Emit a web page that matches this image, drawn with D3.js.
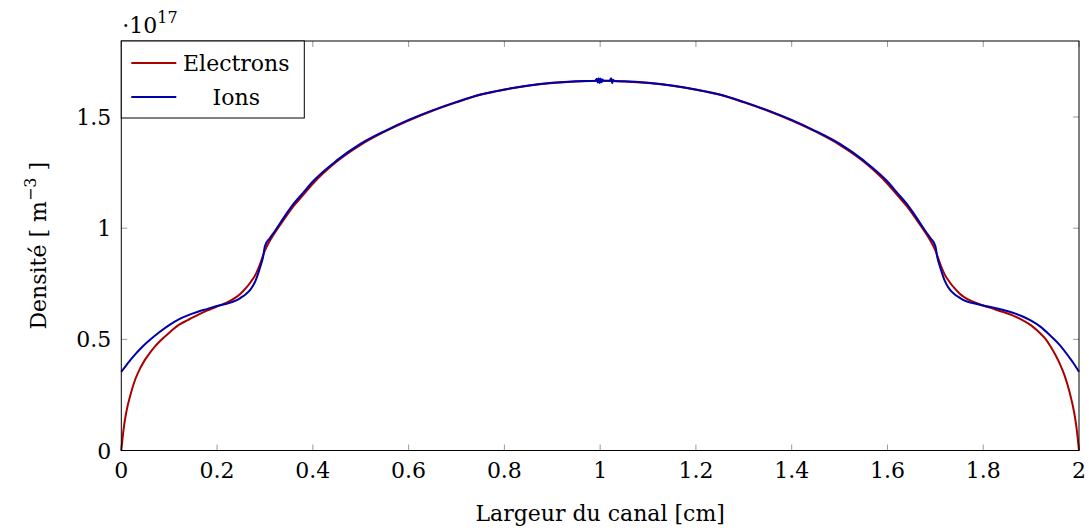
<!DOCTYPE html>
<html>
<head>
<meta charset="utf-8">
<script src="https://cdn.jsdelivr.net/npm/d3@7"></script>
<style>
  body { margin: 0; background: #fff; }
  svg text { font-family: "DejaVu Serif", "Liberation Serif", serif; fill: #000; }
</style>
</head>
<body>
<div id="container"></div>
<script>
/* CONSTANTS AND GLOBALS */
const width = 1089,
  height = 530,
  margin = { top: 41, bottom: 79.5, left: 121.3, right: 10 }

/* DATA */
const xElectrons = [0, 0.005, 0.01, 0.02, 0.03, 0.04, 0.05, 0.06, 0.07, 0.08, 0.1, 0.12, 0.14, 0.16, 0.18, 0.2,
  0.22, 0.24, 0.25, 0.26, 0.27, 0.28, 0.29, 0.3, 0.31, 0.32, 0.34, 0.36, 0.38, 0.4, 0.45, 0.5, 0.55, 0.6,
  0.65, 0.7, 0.75, 0.8, 0.85, 0.9, 0.95, 1.0,
  1.05, 1.1, 1.15, 1.2, 1.25, 1.3, 1.35, 1.4, 1.45, 1.5, 1.55, 1.6, 1.62, 1.64, 1.66, 1.68, 1.69,
  1.7, 1.71, 1.72, 1.73, 1.74, 1.75, 1.76, 1.78, 1.8, 1.82, 1.84, 1.86, 1.88, 1.9, 1.92, 1.93, 1.94, 1.95,
  1.96, 1.97, 1.98, 1.99, 1.995, 2.0]
const electrons = [0, 0.1, 0.168, 0.258, 0.325, 0.372, 0.41, 0.44, 0.467, 0.49, 0.53, 0.565, 0.588, 0.61, 0.63, 0.648,
  0.665, 0.69, 0.707, 0.73, 0.757, 0.79, 0.84, 0.9, 0.942, 0.977, 1.04, 1.1, 1.15, 1.2, 1.3, 1.375, 1.434, 1.484,
  1.528, 1.566, 1.6, 1.623, 1.641, 1.653, 1.66, 1.663,
  1.66, 1.653, 1.641, 1.623, 1.6, 1.566, 1.528, 1.484, 1.434, 1.375, 1.3, 1.2, 1.15, 1.1, 1.04, 0.977, 0.942,
  0.9, 0.84, 0.79, 0.757, 0.73, 0.707, 0.69, 0.668, 0.652, 0.638, 0.624, 0.609, 0.589, 0.563, 0.525, 0.502, 0.47, 0.433,
  0.39, 0.337, 0.265, 0.17, 0.1, 0]

const xIons = [0, 0.01, 0.02, 0.03, 0.04, 0.05, 0.06, 0.08, 0.1, 0.12, 0.14, 0.16, 0.18, 0.2,
  0.22, 0.24, 0.25, 0.26, 0.27, 0.28, 0.29, 0.296, 0.3, 0.31, 0.32, 0.34, 0.36, 0.38, 0.4, 0.45, 0.5, 0.55, 0.6,
  0.65, 0.7, 0.75, 0.8, 0.85, 0.9, 0.95, 0.99, 0.993, 0.995, 0.997, 0.999, 1.001, 1.003, 1.005, 1.007,
  1.02, 1.023, 1.025, 1.027, 1.03, 1.05, 1.1, 1.15, 1.2, 1.25, 1.3, 1.35, 1.4, 1.45, 1.5, 1.55, 1.6,
  1.62, 1.64, 1.66, 1.68, 1.69, 1.7, 1.704, 1.71, 1.72, 1.73, 1.74, 1.75, 1.76, 1.78, 1.8, 1.82, 1.84, 1.86,
  1.88, 1.9, 1.92, 1.94, 1.96, 1.98, 1.99, 2.0]
const ions = [0.354, 0.382, 0.41, 0.435, 0.458, 0.479, 0.498, 0.533, 0.564, 0.59, 0.609, 0.624, 0.637, 0.65,
  0.66, 0.675, 0.688, 0.703, 0.725, 0.762, 0.825, 0.87, 0.92, 0.955, 0.985, 1.05, 1.11, 1.16, 1.21, 1.305, 1.38, 1.437, 1.487,
  1.53, 1.568, 1.601, 1.624, 1.642, 1.654, 1.661, 1.663, 1.672, 1.655, 1.674, 1.652, 1.673, 1.656, 1.669, 1.663,
  1.663, 1.675, 1.652, 1.668, 1.662, 1.661, 1.654, 1.642, 1.624, 1.601, 1.568, 1.53, 1.487, 1.437, 1.38, 1.305, 1.21,
  1.16, 1.11, 1.05, 0.985, 0.955, 0.92, 0.87, 0.825, 0.762, 0.725, 0.703, 0.688, 0.675, 0.662, 0.652, 0.643, 0.633, 0.621,
  0.605, 0.584, 0.556, 0.517, 0.474, 0.418, 0.388, 0.354]

const xTicks = [0, 0.2, 0.4, 0.6, 0.8, 1, 1.2, 1.4, 1.6, 1.8, 2]
const yTicks = [0, 0.5, 1, 1.5]
const seriesNames = ["Electrons", "Ions"]
const seriesColors = ["#aa0000", "#0000aa"]

/* SCALES */
const xScale = d3.scaleLinear()
  .domain([0, 2])
  .range([margin.left, width - margin.right])

const yScale = d3.scaleLinear()
  .domain([0, 1.842])
  .range([height - margin.bottom, margin.top])

/* SVG */
const svg = d3.select("#container")
  .append("svg")
  .attr("width", width)
  .attr("height", height)

const x0 = margin.left, x1 = width - margin.right
const y0 = height - margin.bottom, y1 = margin.top
const tickLen = 6
const fs = "22px"

// ticks, inside, on all four sides
const ticks = svg.append("g").attr("stroke", "#999").attr("stroke-width", 1)
xTicks.forEach(t => {
  const px = xScale(t)
  ticks.append("line").attr("x1", px).attr("x2", px).attr("y1", y0).attr("y2", y0 - tickLen)
  ticks.append("line").attr("x1", px).attr("x2", px).attr("y1", y1).attr("y2", y1 + tickLen)
})
yTicks.forEach(t => {
  const py = yScale(t)
  ticks.append("line").attr("x1", x0).attr("x2", x0 + tickLen).attr("y1", py).attr("y2", py)
  ticks.append("line").attr("x1", x1).attr("x2", x1 - tickLen).attr("y1", py).attr("y2", py)
})

// lines
const line = d3.line()
  .x(d => xScale(d[0]))
  .y(d => yScale(d[1]))
  .curve(d3.curveMonotoneX)

svg.append("path")
  .datum(xElectrons.map((x, i) => [x, electrons[i]]))
  .attr("d", line)
  .attr("fill", "none")
  .attr("stroke", seriesColors[0])
  .attr("stroke-width", 2)

svg.append("path")
  .datum(xIons.map((x, i) => [x, ions[i]]))
  .attr("d", line)
  .attr("fill", "none")
  .attr("stroke", seriesColors[1])
  .attr("stroke-width", 2)

// frame
svg.append("rect")
  .attr("x", x0).attr("y", y1)
  .attr("width", x1 - x0).attr("height", y0 - y1)
  .attr("fill", "none").attr("stroke", "#000").attr("stroke-width", 1)

// tick labels
svg.append("g").selectAll("text")
  .data(xTicks)
  .join("text")
  .attr("x", d => xScale(d))
  .attr("y", y0 + 27)
  .attr("text-anchor", "middle")
  .style("font-size", fs)
  .text(d => d3.format("")(d))

svg.append("g").selectAll("text")
  .data(yTicks)
  .join("text")
  .attr("x", x0 - 10)
  .attr("y", d => yScale(d) + 8)
  .attr("text-anchor", "end")
  .style("font-size", fs)
  .text(d => d3.format("")(d))

// multiplier
const mult = svg.append("text")
  .attr("x", x0 + 1)
  .attr("y", 33)
  .style("font-size", fs)
mult.append("tspan").text("·10")
mult.append("tspan").attr("dy", -10).style("font-size", "16px").text("17")

// axis labels
svg.append("text")
  .attr("x", (x0 + x1) / 2)
  .attr("y", 521)
  .attr("text-anchor", "middle")
  .style("font-size", fs)
  .text("Largeur du canal [cm]")

const ylab = svg.append("text")
  .attr("transform", `translate(46, ${(y0 + y1) / 2}) rotate(-90)`)
  .attr("text-anchor", "middle")
  .style("font-size", fs)
ylab.append("tspan").text("Densité [ m")
ylab.append("tspan").attr("dy", -10).style("font-size", "16px").text("−3")
ylab.append("tspan").attr("dy", 10).text(" ]")

// legend
const legend = svg.append("g")
legend.append("rect")
  .attr("x", x0).attr("y", y1)
  .attr("width", 183).attr("height", 77)
  .attr("fill", "#fff").attr("stroke", "#000").attr("stroke-width", 1)

seriesNames.forEach((name, i) => {
  const ly = y1 + 22 + i * 34
  legend.append("line")
    .attr("x1", x0 + 10).attr("x2", x0 + 55)
    .attr("y1", ly).attr("y2", ly)
    .attr("stroke", seriesColors[i]).attr("stroke-width", 2)
  legend.append("text")
    .attr("x", x0 + 115).attr("y", ly + 8)
    .attr("text-anchor", "middle")
    .style("font-size", fs)
    .text(name)
})
</script>
</body>
</html>
